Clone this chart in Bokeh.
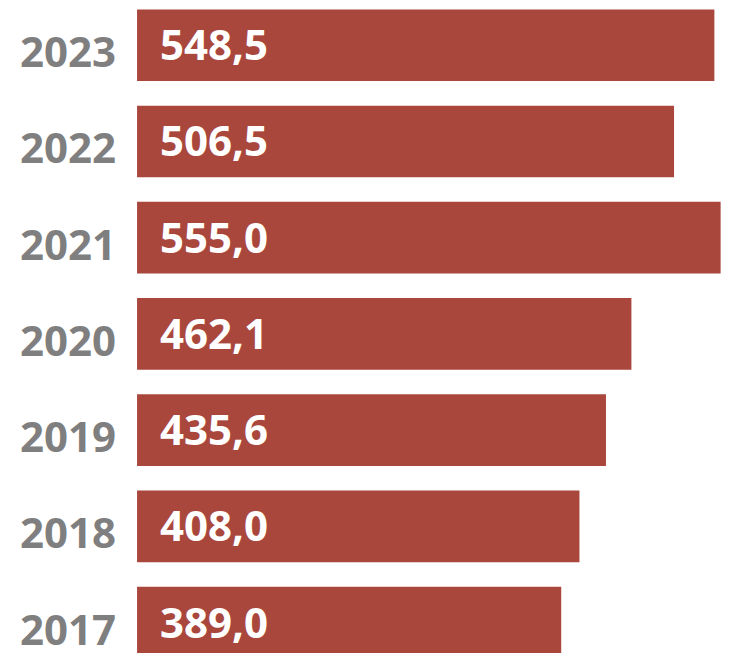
from bokeh.plotting import figure
from bokeh.models import ColumnDataSource, Range1d
from bokeh.core.properties import value
from bokeh.embed import file_html
from bokeh.resources import INLINE

# ---- data ----
years = ["2017", "2018", "2019", "2020", "2021", "2022", "2023"]
values = [389.0, 408.0, 435.6, 462.1, 555.0, 506.5, 548.5]
value_labels = [f"{v:.1f}".replace(".", ",") for v in values]

# ---- styling / layout constants ----
BAR_COLOR = "#AA473D"
YEAR_COLOR = "#7F7F7F"
BASE = -52.7          # axis value where the bars start (left edge)

src = ColumnDataSource(dict(
    y=list(range(len(years))),
    year=years,
    val=values,
    lab=value_labels,
))

p = figure(
    width=723, height=653,
    x_range=Range1d(-194.9, 558.0),
    y_range=Range1d(-0.321, 6.465),
    output_backend="svg", toolbar_location=None,
    min_border=0,
)
p.axis.visible = False
p.grid.visible = False
p.outline_line_color = None
p.background_fill_color = "white"
p.border_fill_color = "white"

p.hbar(y="y", left=BASE, right="val", height=0.745, source=src,
       fill_color=BAR_COLOR, line_color=None)

p.text(x=BASE, y="y", text="lab", source=src,
       x_offset=23, y_offset=0, text_baseline="alphabetic", text_align="left",
       text_font=value("Open Sans"), text_font_style="bold",
       text_font_size="42px", text_color="white")

p.text(x=BASE, y="y", text="year", source=src,
       x_offset=-21, y_offset=7, text_baseline="alphabetic", text_align="right",
       text_font=value("Open Sans"), text_font_style="bold",
       text_font_size="42px", text_color=YEAR_COLOR)

open("out.html", "w").write(file_html(p, INLINE))
